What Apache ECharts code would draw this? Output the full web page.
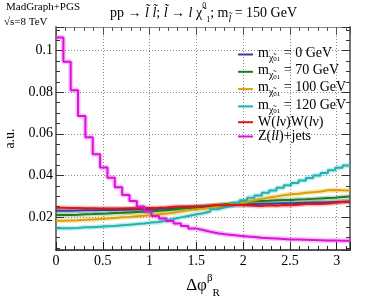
<!DOCTYPE html>
<html>
<head>
<meta charset="utf-8">
<script src="https://cdn.jsdelivr.net/npm/echarts@6/dist/echarts.min.js"></script>
<style>html,body{margin:0;padding:0;background:#fff;}#c{width:374px;height:296px;}</style>
</head>
<body>
<div id="c"></div>
<script>
// ---- data ----
const nBins = 40;
const xMin = 0, xMax = Math.PI;
const yMin = 0.0041, yMax = 0.1114;
const xTickLabels = ['0', '0.5', '1', '1.5', '2', '2.5', '3'];
const yTickLabels = ['0.02', '0.04', '0.06', '0.08', '0.1'];
const seriesNames = ['m0', 'm70', 'm100', 'm120', 'WW', 'Zjets'];
const m0 = [0.0230,0.0230,0.0231,0.0232,0.0232,0.0233,0.0234,0.0234,0.0235,0.0236,0.0237,0.0237,0.0238,0.0239,0.0240,0.0241,0.0243,0.0244,0.0246,0.0248,0.0250,0.0252,0.0254,0.0256,0.0258,0.0260,0.0262,0.0263,0.0264,0.0265,0.0266,0.0266,0.0267,0.0268,0.0269,0.0270,0.0271,0.0272,0.0273,0.0274];
const m70 = [0.0209,0.0210,0.0211,0.0213,0.0214,0.0216,0.0217,0.0219,0.0220,0.0222,0.0224,0.0226,0.0228,0.0230,0.0232,0.0236,0.0240,0.0244,0.0247,0.0250,0.0253,0.0257,0.0261,0.0265,0.0268,0.0272,0.0275,0.0277,0.0278,0.0280,0.0281,0.0282,0.0284,0.0285,0.0287,0.0289,0.0291,0.0293,0.0296,0.0298];
const m100 = [0.0182,0.0183,0.0184,0.0186,0.0188,0.0190,0.0192,0.0195,0.0198,0.0200,0.0203,0.0206,0.0209,0.0213,0.0216,0.0220,0.0226,0.0232,0.0236,0.0239,0.0243,0.0250,0.0256,0.0262,0.0267,0.0272,0.0280,0.0287,0.0294,0.0299,0.0304,0.0309,0.0312,0.0316,0.0319,0.0322,0.0328,0.0330,0.0328,0.0327];
const m120 = [0.0146,0.0146,0.0147,0.0150,0.0151,0.0153,0.0155,0.0157,0.0160,0.0163,0.0166,0.0169,0.0173,0.0176,0.0183,0.0190,0.0198,0.0205,0.0212,0.0218,0.0226,0.0237,0.0246,0.0255,0.0266,0.0280,0.0292,0.0303,0.0316,0.0327,0.0340,0.0352,0.0363,0.0376,0.0388,0.0400,0.0412,0.0425,0.0437,0.0447];
const ww = [0.0244,0.0243,0.0243,0.0242,0.0242,0.0241,0.0241,0.0241,0.0241,0.0242,0.0242,0.0243,0.0243,0.0244,0.0246,0.0249,0.0250,0.0250,0.0251,0.0251,0.0255,0.0256,0.0256,0.0257,0.0257,0.0256,0.0254,0.0253,0.0256,0.0254,0.0258,0.0256,0.0259,0.0262,0.0263,0.0262,0.0265,0.0268,0.0272,0.0273];
const zjets = [0.1064,0.0947,0.0810,0.0686,0.0583,0.0502,0.0438,0.0389,0.0343,0.0306,0.0277,0.0250,0.0226,0.0204,0.0192,0.0180,0.0168,0.0156,0.0145,0.0137,0.0129,0.0122,0.0117,0.0113,0.0109,0.0106,0.0103,0.0100,0.0098,0.0096,0.0094,0.0092,0.0091,0.0090,0.0089,0.0088,0.0087,0.0087,0.0086,0.0086];
const seriesValues = [m0, m70, m100, m120, ww, zjets];
const seriesColors = ['#3b3b9e', '#1c7c1c', '#dda000', '#1fb3b3', '#e01515', '#dd10dd'];

// ---- helpers ----
const binEdges = Array.from({length: nBins + 1}, (_, i) => xMin + i * (xMax - xMin) / nBins);
function stepData(vals) {
  const d = vals.map((v, i) => [binEdges[i], v]);
  d.push([binEdges[nBins], vals[nBins - 1]]);
  return d;
}
const SERIF = '"Liberation Serif", "DejaVu Serif", serif';

const mLabel = (v) => '{m|m}{s|χ̃}{sp|0}{sb|1}{m| = ' + v + ' GeV}';
const legendLabels = {
  m0: mLabel('0'), m70: mLabel('70'), m100: mLabel('100'), m120: mLabel('120'),
  WW: '{w|W(}{wi|l}{w|ν)W(}{wi|l}{w|ν)}',
  Zjets: '{w|Z(}{wi|ll}{w|)+jets}'
};

const series = [];
seriesNames.forEach((n, k) => {
  series.push({
    name: n + '_band', type: 'line', step: 'end', data: stepData(seriesValues[k]),
    showSymbol: false, symbol: 'none', silent: true, z: 2,
    lineStyle: {color: seriesColors[k], width: 5, opacity: 0.25}
  });
});
seriesNames.forEach((n, k) => {
  series.push({
    name: n, type: 'line', step: 'end', data: stepData(seriesValues[k]),
    showSymbol: false, symbol: 'none', z: 3,
    itemStyle: {color: seriesColors[k]},
    lineStyle: {color: seriesColors[k], width: 2}
  });
});

const yFmt = (v) => {
  const r = v / 0.02;
  if (Math.abs(r - Math.round(r)) > 1e-6 || Math.round(r) < 1) return '';
  return yTickLabels[Math.round(r) - 1] || '';
};
const xFmt = (v) => {
  const r = v / 0.5;
  if (Math.abs(r - Math.round(r)) > 1e-6) return '';
  return xTickLabels[Math.round(r)] || '';
};

const chart = echarts.init(document.getElementById('c'), null, {renderer: 'canvas'});
chart.setOption({
  animation: false,
  backgroundColor: '#fff',
  title: [
    {text: 'MadGraph+PGS', left: 6, top: 2, padding: 0,
     textStyle: {fontFamily: SERIF, fontSize: 11, fontWeight: 'normal', color: '#000'}},
    {text: '√s=8 TeV', left: 4, top: 17, padding: 0,
     textStyle: {fontFamily: SERIF, fontSize: 11, fontWeight: 'normal', color: '#000'}},
    {text: '{t|pp → }{it|l̃ l̃}{t|; }{it|l̃}{t| → }{it|l}{t| χ̃}{sp|0}{sb|1}{t|; m}{sbl|l̃}{t| = 150 GeV}',
     left: 110, top: 2, padding: 0,
     textStyle: {fontFamily: SERIF, fontSize: 14, fontWeight: 'normal', color: '#000',
       rich: {
         t: {fontFamily: SERIF, fontSize: 14, lineHeight: 22, color: '#000'},
         it: {fontFamily: SERIF, fontSize: 14, lineHeight: 22, fontStyle: 'italic', color: '#000'},
         sp: {fontFamily: SERIF, fontSize: 8, lineHeight: 8, verticalAlign: 'top', color: '#000'},
         sb: {fontFamily: SERIF, fontSize: 8, lineHeight: 8, verticalAlign: 'bottom', color: '#000'},
         sbl: {fontFamily: SERIF, fontSize: 10, lineHeight: 10, verticalAlign: 'bottom', fontStyle: 'italic', color: '#000'}
       }}}
  ],
  legend: {
    data: seriesNames, orient: 'vertical', left: 238, top: 46, padding: 0,
    itemWidth: 15, itemHeight: 2, itemGap: 0.3, icon: 'rect',
    formatter: (name) => legendLabels[name],
    textStyle: {fontFamily: SERIF, fontSize: 14, color: '#000',
      rich: {
        m: {fontFamily: SERIF, fontSize: 14, lineHeight: 14, verticalAlign: 'top', color: '#000'},
        s: {fontFamily: SERIF, fontSize: 10, lineHeight: 10, verticalAlign: 'bottom', color: '#000'},
        sp: {fontFamily: SERIF, fontSize: 7, lineHeight: 17, verticalAlign: 'bottom', color: '#000'},
        sb: {fontFamily: SERIF, fontSize: 7, lineHeight: 7, verticalAlign: 'bottom', color: '#000'},
        w: {fontFamily: SERIF, fontSize: 14, lineHeight: 16, color: '#000'},
        wi: {fontFamily: SERIF, fontSize: 14, lineHeight: 16, fontStyle: 'italic', color: '#000'}
      }}
  },
  grid: {left: 56, right: 24, top: 27, bottom: 46, containLabel: false, outerBoundsMode: 'none'},
  xAxis: [
    {type: 'value', min: xMin, max: xMax, interval: 0.5, position: 'bottom',
     name: '{d|Δφ}{sp|β}{sb|R}', nameLocation: 'middle', nameGap: 15,
     nameTextStyle: {fontFamily: SERIF, color: '#000', verticalAlign: 'top',
       rich: {
         d: {fontFamily: SERIF, fontSize: 17, lineHeight: 26, color: '#000'},
         sp: {fontFamily: SERIF, fontSize: 11, lineHeight: 11, verticalAlign: 'top', color: '#000'},
         sb: {fontFamily: SERIF, fontSize: 11, lineHeight: 11, verticalAlign: 'bottom', color: '#000'}
       }},
     axisLine: {show: true, onZero: false, lineStyle: {color: '#222', width: 1.5}},
     axisTick: {show: true, inside: true, length: 8, lineStyle: {color: '#222', width: 1}},
     minorTick: {show: true, splitNumber: 5, length: 4, lineStyle: {color: '#222', width: 1}},
     axisLabel: {show: true, margin: 4, fontFamily: SERIF, fontSize: 14, color: '#000',
       formatter: xFmt, showMaxLabel: false},
     splitLine: {show: true, lineStyle: {color: '#8a8a8a', width: 1, type: [1, 2]}}},
    {type: 'value', min: xMin, max: xMax, interval: 0.5, position: 'top',
     axisLine: {show: true, onZero: false, lineStyle: {color: '#888', width: 1}},
     axisTick: {show: true, inside: true, length: 8, lineStyle: {color: '#555'}},
     minorTick: {show: true, splitNumber: 5, length: 4, lineStyle: {color: '#555'}},
     axisLabel: {show: false}, splitLine: {show: false}}
  ],
  yAxis: [
    {type: 'value', min: yMin, max: yMax, splitNumber: 5, position: 'left',
     name: 'a.u.', nameLocation: 'middle', nameGap: 39,
     nameTextStyle: {fontFamily: SERIF, fontSize: 14, color: '#000'},
     axisLine: {show: true, onZero: false, lineStyle: {color: '#777', width: 2}},
     axisTick: {show: true, inside: true, length: 8, lineStyle: {color: '#333'}},
     minorTick: {show: true, splitNumber: 4, length: 4, lineStyle: {color: '#333'}},
     axisLabel: {show: true, margin: 3, fontFamily: SERIF, fontSize: 14, color: '#000',
       formatter: yFmt, showMinLabel: false, showMaxLabel: false},
     splitLine: {show: true, lineStyle: {color: '#8a8a8a', width: 1, type: [1, 2]}}},
    {type: 'value', min: yMin, max: yMax, splitNumber: 5, position: 'right',
     axisLine: {show: true, onZero: false, lineStyle: {color: '#777', width: 2}},
     axisTick: {show: true, inside: true, length: 8, lineStyle: {color: '#333'}},
     minorTick: {show: true, splitNumber: 4, length: 4, lineStyle: {color: '#333'}},
     axisLabel: {show: false}, splitLine: {show: false}}
  ],
  series: series
});
</script>
</body>
</html>
